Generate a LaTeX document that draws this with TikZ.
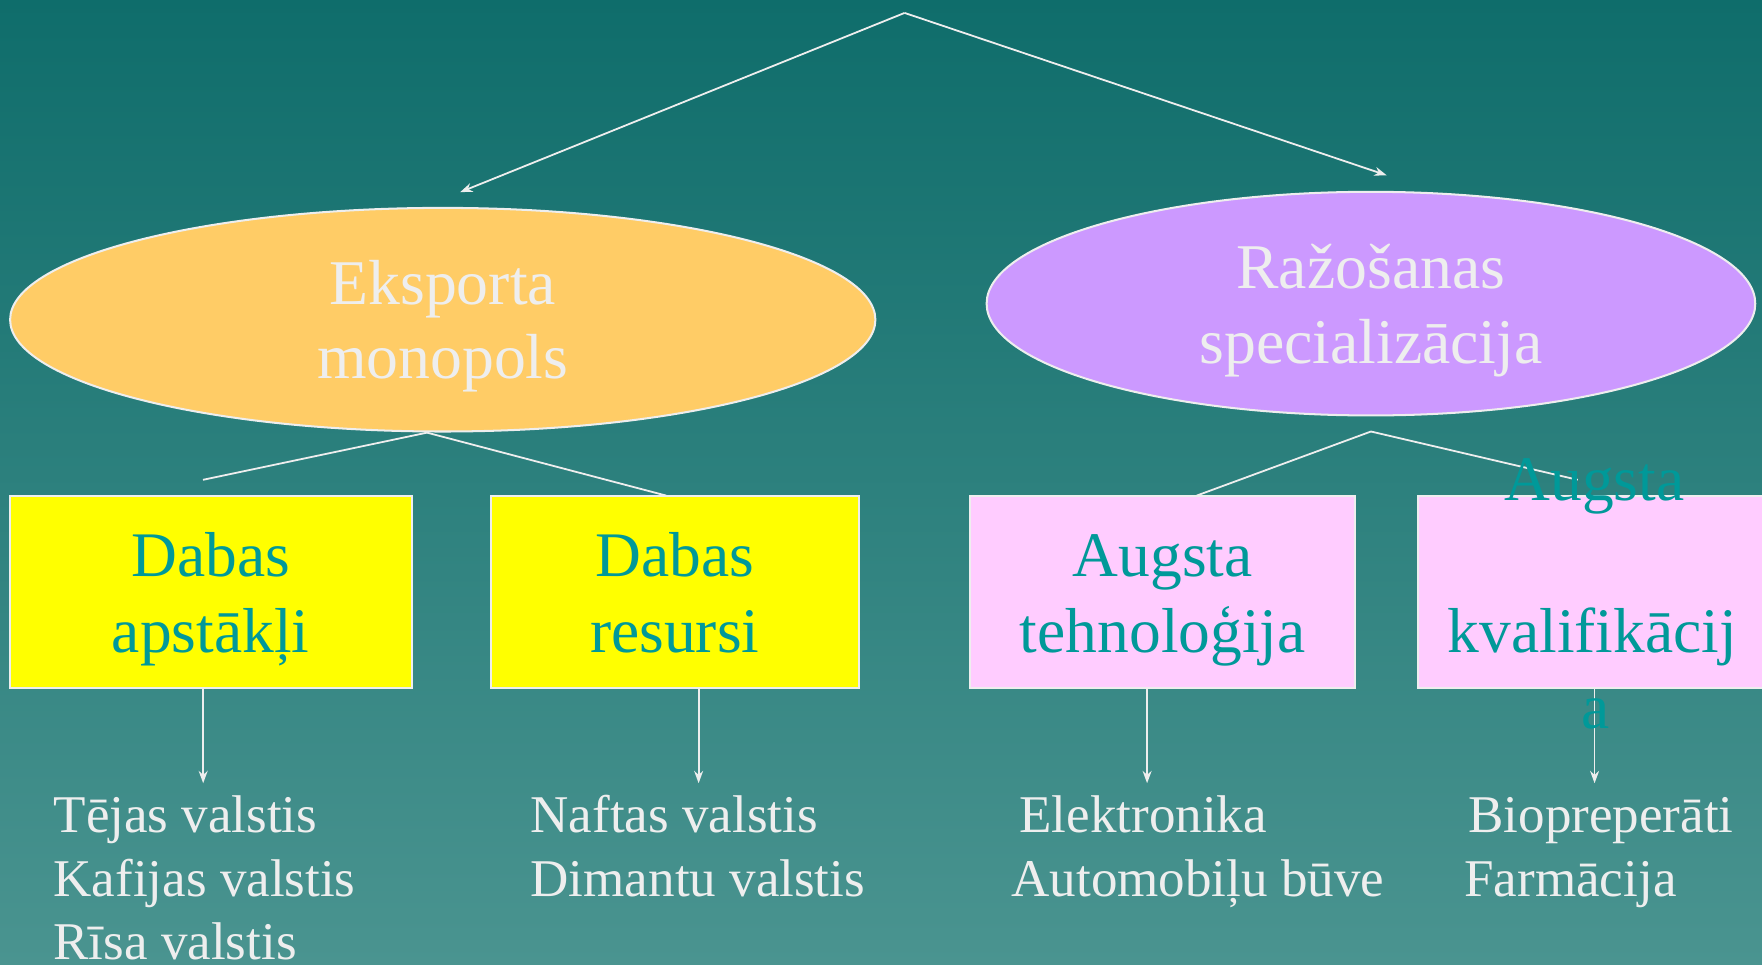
\documentclass[tikz,border=0pt]{standalone}
\usepackage{fontspec}
\setmainfont{Liberation Serif}
\usetikzlibrary{shapes.geometric,arrows.meta}
\definecolor{bgtop}{HTML}{0F6D6B}
\definecolor{bgbot}{HTML}{4A9490}
\definecolor{orangefill}{HTML}{FFCC66}
\definecolor{violetfill}{HTML}{CC99FF}
\definecolor{yellowfill}{HTML}{FFFF00}
\definecolor{pinkfill}{HTML}{FFCCFF}
\definecolor{tealtext}{HTML}{009999}
\definecolor{lightline}{HTML}{EEEEEE}
\tikzset{
  oval/.style={ellipse, draw=lightline, line width=1.8pt, inner sep=0pt, outer sep=0pt},
  ybox/.style={rectangle, draw=lightline, fill=yellowfill, line width=1.8pt, inner sep=0pt, outer sep=0pt},
  pbox/.style={rectangle, draw=lightline, fill=pinkfill, line width=1.8pt, inner sep=0pt, outer sep=0pt},
  ovaltext/.style={anchor=base, inner sep=0pt, text=lightline, font=\fontsize{56.7}{66}\selectfont},
  boxtext/.style={anchor=base, inner sep=0pt, text=tealtext, font=\fontsize{56.5}{68}\selectfont},
  listtext/.style={anchor=base west, inner sep=0pt, text=lightline, font=\fontsize{47.2}{57}\selectfont},
  conn/.style={draw=lightline, line width=1.6pt},
  arr/.style={conn, -{Stealth[length=11pt,width=8pt]}},
}
\begin{document}
\begin{tikzpicture}[x=1pt,y=-1pt]
\useasboundingbox (0,0) rectangle (1568,858);
\shade[top color=bgtop, bottom color=bgbot] (0,0) rectangle (1568,858);

% top apex and arrows
\coordinate (apex) at (805,11.5);
\coordinate (t1) at (409.5,171);
\coordinate (t2) at (1234,156);
\draw[arr] (apex) -- (t1);
\draw[arr] (apex) -- (t2);

% ellipses
\node[oval, fill=orangefill, minimum width=770, minimum height=199] (e1) at (394,284.5) {};
\node[oval, fill=violetfill, minimum width=684, minimum height=199] (e2) at (1220,270.2) {};
\node[ovaltext] (e1a) at (394,271) {Eksporta};
\node[ovaltext] (e1b) at (394,337) {monopols};
\node[ovaltext] (e2a) at (1220,257) {Ražošanas};
\node[ovaltext] (e2b) at (1220,323.5) {specializācija};

% junctions under ellipses
\coordinate (j1) at (380,385);
\coordinate (j2) at (1220,384);
\coordinate (j1l) at (180.6,427);
\coordinate (j2r) at (1404,427);

% boxes
\node[ybox, minimum width=357, minimum height=171] (b1) at (187.75,526.5) {};
\node[ybox, minimum width=327, minimum height=171] (b2) at (600.5,526.5) {};
\node[pbox, minimum width=342.5, minimum height=171] (b3) at (1034.75,526.5) {};
\fill[pinkfill] (1262,441) rectangle (1568,612);
\node[rectangle, inner sep=0pt, outer sep=0pt, minimum width=306, minimum height=171] (b4) at (1415,526.5) {};
\draw[lightline, line width=1.8pt] (1569,441) -- (1262,441) -- (1262,612) -- (1569,612);

\draw[conn] (j1) -- (j1l);
\draw[conn] (j1) -- (b2.north -| 592.7,0);
\draw[conn] (j2) -- (b3.north -| 1065,0);
\draw[conn] (j2) -- (j2r);

\node[boxtext] (b1a) at (187.5,513) {Dabas};
\node[boxtext] (b1b) at (187.5,581) {apstākļi};
\node[boxtext] (b2a) at (600.5,513) {Dabas};
\node[boxtext] (b2b) at (600.5,581) {resursi};
\node[boxtext] (b3a) at (1034.75,513) {Augsta};
\node[boxtext] (b3b) at (1034.75,581) {tehnoloģija};
\node[boxtext] (b4a) at (1419,445) {Augsta};
\node[boxtext] (b4b) at (1417,581) {kvalifikācij};

% arrows to lists
\coordinate (a1) at (180.8,697);
\coordinate (a2) at (621.7,697);
\coordinate (a3) at (1020.8,697);
\coordinate (a4) at (1419,697);
\draw[arr] (b1.south -| a1) -- (a1);
\draw[arr] (b2.south -| a2) -- (a2);
\draw[arr] (b3.south -| a3) -- (a3);
\draw[arr] (b4.south -| a4) -- (a4);
\node[boxtext] (b4c) at (1420,648) {a};

% lists
\node[listtext] (l1a) at (47.5,741) {Tējas valstis};
\node[listtext] (l1b) at (47.5,798) {Kafijas valstis};
\node[listtext] (l1c) at (47.5,854) {Rīsa valstis};
\node[listtext] (l2a) at (472,741) {Naftas valstis};
\node[listtext] (l2b) at (472,798) {Dimantu valstis};
\node[listtext] (l3a) at (907,741) {Elektronika};
\node[listtext] (l3b) at (900,798) {Automobiļu būve};
\node[listtext] (l4a) at (1306.5,741) {Biopreperāti};
\node[listtext] (l4b) at (1303,798) {Farmācija};
\end{tikzpicture}
\end{document}
